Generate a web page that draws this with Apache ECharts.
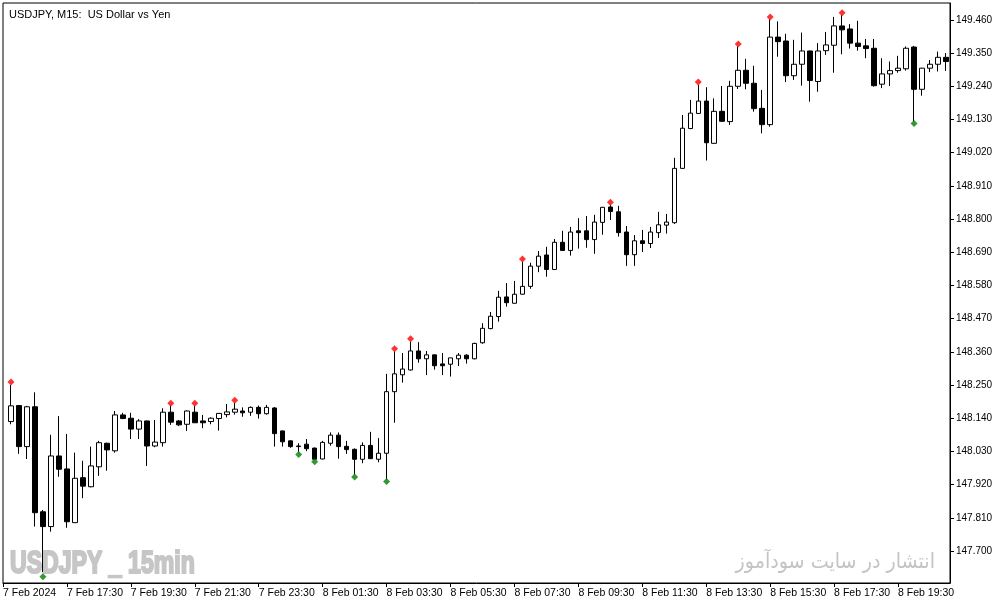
<!DOCTYPE html>
<html>
<head>
<meta charset="utf-8">
<script src="https://cdn.jsdelivr.net/npm/echarts@6/dist/echarts.min.js"></script>
<style>
html,body{margin:0;padding:0;background:#fff;}
#chart{width:1003px;height:605px;}
</style>
</head>
<body>
<div id="chart"></div>
<script>
// 15-minute bars, 7 Feb 2024 15:45 onwards (index = bar number)
const opens = [148.129,148.182,148.046,148.178,147.830,147.781,148.015,147.972,147.794,147.943,
147.913,147.979,148.057,148.032,148.151,148.140,148.104,148.131,148.048,148.059,
148.160,148.131,148.120,148.160,148.131,148.129,148.139,148.152,148.160,148.164,
148.160,148.176,148.155,148.174,148.098,148.065,148.048,148.054,148.041,148.005,
148.057,148.084,148.047,148.037,148.004,148.050,148.004,148.024,148.228,148.284,
148.300,148.363,148.337,148.350,148.320,148.319,148.337,148.349,148.337,148.390,
148.437,148.477,148.542,148.521,148.551,148.577,148.644,148.681,148.633,148.723,
148.696,148.761,148.761,148.732,148.789,148.840,148.824,148.757,148.682,148.728,
148.719,148.755,148.780,148.788,148.968,149.100,149.150,149.191,149.051,149.157,
149.123,149.240,149.293,149.250,149.167,149.113,149.403,149.390,149.275,149.313,
149.357,149.256,149.358,149.376,149.440,149.430,149.383,149.374,149.366,149.247,
149.281,149.292,149.298,149.370,149.230,149.300,149.313,149.336];
const highs = [148.250,148.184,148.181,148.226,147.836,148.085,148.147,148.088,148.026,147.999,
148.046,148.065,148.059,148.164,148.158,148.158,148.137,148.132,148.134,148.173,
148.182,148.134,148.166,148.181,148.151,148.143,148.157,148.187,148.192,148.176,
148.179,148.182,148.184,148.177,148.099,148.067,148.057,148.071,148.043,148.065,
148.093,148.093,148.065,148.040,148.060,148.095,148.074,148.287,148.362,148.356,
148.394,148.392,148.363,148.351,148.356,148.340,148.356,148.352,148.390,148.455,
148.492,148.562,148.588,148.595,148.660,148.655,148.694,148.708,148.734,148.761,
148.774,148.803,148.810,148.814,148.840,148.848,148.844,148.777,148.747,148.764,
148.774,148.824,148.817,149.003,149.145,149.195,149.245,149.237,149.200,149.241,
149.258,149.372,149.331,149.308,149.228,149.462,149.455,149.414,149.394,149.418,
149.358,149.383,149.420,149.470,149.476,149.446,149.457,149.397,149.397,149.333,
149.322,149.341,149.372,149.374,149.301,149.327,149.355,149.350];
const lows = [148.120,148.022,148.005,147.781,147.630,147.764,147.946,147.777,147.793,147.875,
147.911,147.949,147.966,148.026,148.137,148.071,148.071,147.982,148.044,148.046,
148.118,148.114,148.098,148.125,148.107,148.120,148.099,148.143,148.152,148.145,
148.148,148.139,148.152,148.046,148.046,148.042,148.027,148.031,148.002,148.004,
148.049,148.006,148.022,147.952,147.991,148.005,147.994,147.935,148.125,148.258,
148.298,148.324,148.283,148.301,148.283,148.278,148.313,148.321,148.335,148.387,
148.435,148.460,148.510,148.520,148.550,148.569,148.624,148.609,148.631,148.695,
148.679,148.702,148.705,148.685,148.748,148.797,148.742,148.645,148.645,148.691,
148.704,148.737,148.752,148.784,148.966,149.098,149.148,148.994,149.050,149.122,
149.112,149.231,149.230,149.156,149.084,149.106,149.338,149.254,149.261,149.242,
149.189,149.222,149.344,149.285,149.346,149.365,149.358,149.333,149.239,149.234,
149.241,149.285,149.292,149.123,149.209,149.287,149.289,149.291];
const closes = [148.181,148.046,148.178,147.827,147.781,148.015,147.971,147.797,147.941,147.915,
147.982,148.059,148.035,148.151,148.139,148.104,148.131,148.048,148.061,148.160,
148.127,148.118,148.164,148.125,148.125,148.140,148.156,148.161,148.170,148.158,
148.176,148.155,148.176,148.089,148.062,148.046,148.046,148.039,148.004,148.060,
148.084,148.046,148.036,148.004,148.050,148.006,148.024,148.228,148.287,148.303,
148.363,148.337,148.350,148.314,148.314,148.340,148.349,148.337,148.388,148.438,
148.478,148.541,148.523,148.551,148.577,148.644,148.677,148.633,148.723,148.696,
148.757,148.755,148.732,148.790,148.839,148.825,148.755,148.682,148.728,148.719,
148.757,148.781,148.790,148.968,149.101,149.151,149.191,149.053,149.157,149.124,
149.240,149.293,149.250,149.166,149.113,149.403,149.388,149.275,149.313,149.357,
149.259,149.357,149.377,149.440,149.427,149.383,149.372,149.365,149.242,149.281,
149.292,149.300,149.366,149.230,149.300,149.313,149.336,149.322];

// Fractal markers: [bar index, price]
const fractalUp = [[0,148.260],[20,148.190],[23,148.190],[28,148.200],[48,148.370],[50,148.403],
[64,148.668],[75,148.856],[86,149.254],[91,149.380],[95,149.470],[104,149.484]];
const fractalDown = [[4,147.615],[36,148.020],[38,147.996],[43,147.945],[47,147.930],[113,149.117]];

// Tick labels
const yTicks = [147.700,147.810,147.920,148.030,148.140,148.250,148.360,148.470,148.580,
148.690,148.800,148.910,149.020,149.130,149.240,149.350,149.460];
const xTickIdx = [-1,7,15,23,31,39,47,55,63,71,79,87,95,103,111];
const xTickText = ['7 Feb 2024','7 Feb 17:30','7 Feb 19:30','7 Feb 21:30','7 Feb 23:30',
'8 Feb 01:30','8 Feb 03:30','8 Feb 05:30','8 Feb 07:30','8 Feb 09:30','8 Feb 11:30',
'8 Feb 13:30','8 Feb 15:30','8 Feb 17:30','8 Feb 19:30'];

const candleData = opens.map((o, i) => [i, o, closes[i], lows[i], highs[i]]);

const FONT = 'Liberation Sans, Arial, sans-serif';
const chart = echarts.init(document.getElementById('chart'), null, {renderer: 'canvas'});
chart.setOption({
  animation: false,
  backgroundColor: '#ffffff',
  title: {
    text: 'USDJPY, M15:  US Dollar vs Yen',
    left: 4, top: 4,
    textStyle: {fontSize: 11, fontWeight: 'normal', color: '#000', fontFamily: FONT}
  },
  grid: {left: 2, right: 53, top: 3, bottom: 22, show: true, borderColor: '#000', borderWidth: 1, backgroundColor: 'transparent'},
  xAxis: {
    type: 'value', min: -1, max: 117.5,
    axisLine: {show: true, onZero: false, lineStyle: {color: '#000', width: 1}},
    axisTick: {show: true, length: 4, customValues: xTickIdx, lineStyle: {color: '#000'}},
    axisLabel: {
      show: true, customValues: xTickIdx, align: 'left', margin: 5,
      fontSize: 10.5, color: '#000', fontFamily: FONT,
      formatter: (v) => { const k = xTickIdx.indexOf(v); return k >= 0 ? xTickText[k] : ''; }
    },
    splitLine: {show: false}
  },
  yAxis: {
    type: 'value', position: 'right', min: 147.594, max: 149.516, scale: true,
    axisLine: {show: true, onZero: false, lineStyle: {color: '#000', width: 1}},
    axisTick: {show: true, length: 4, customValues: yTicks, lineStyle: {color: '#000'}},
    axisLabel: {
      show: true, customValues: yTicks, margin: 6,
      fontSize: 10, color: '#000', fontFamily: FONT,
      formatter: (v) => Number(v).toFixed(3)
    },
    splitLine: {show: false}
  },
  graphic: [
    {
      type: 'text', x: 10, y: 564, scaleX: 0.745, z: 0, silent: true,
      style: {text: 'USDJPY _ 15min', x: 0, y: 0, fill: '#c6c6c6', stroke: '#c6c6c6', lineWidth: 2.2,
        font: 'bold 31px "Liberation Sans", Arial, sans-serif', textAlign: 'left', textVerticalAlign: 'middle'}
    },
    {
      type: 'text', x: 935, y: 563, scaleX: 0.91, z: 0, silent: true,
      style: {text: 'انتشار در سایت سودآموز', x: 0, y: 0, fill: '#c4c4c4',
        font: '21px "DejaVu Sans", sans-serif', textAlign: 'right', textVerticalAlign: 'middle'}
    }
  ],
  series: [
    {
      type: 'candlestick',
      data: candleData,
      encode: {x: 0, y: [1, 2, 3, 4]},
      barWidth: 5,
      z: 3,
      itemStyle: {color: '#ffffff', color0: '#000000', borderColor: '#000000', borderColor0: '#000000', borderColorDoji: '#000000', borderWidth: 1}
    },
    {
      type: 'scatter', data: fractalUp, symbol: 'diamond', symbolSize: 7, z: 4,
      itemStyle: {color: '#ff0000'}
    },
    {
      type: 'scatter', data: fractalDown, symbol: 'diamond', symbolSize: 7, z: 4,
      itemStyle: {color: '#008000'}
    }
  ]
});
</script>
</body>
</html>
